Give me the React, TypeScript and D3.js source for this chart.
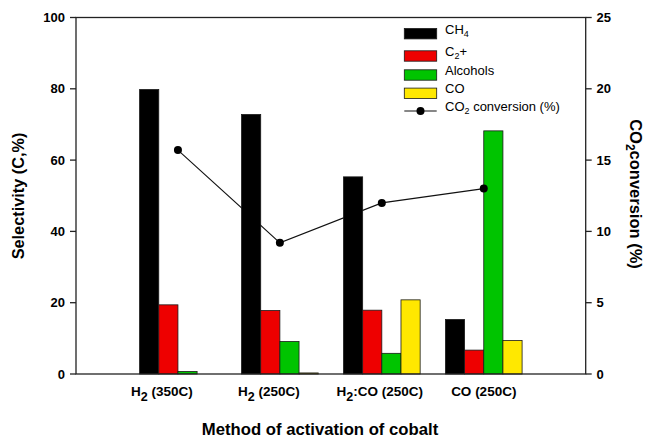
import React from "react";
import { scaleLinear, line } from "d3";

// selectivity (C, %) per activation method
const categories = ["H2 (350C)", "H2 (250C)", "H2:CO (250C)", "CO (250C)"];
const seriesNames = ["CH4", "C2+", "Alcohols", "CO"];
const ch4 = [79.8, 72.8, 55.3, 15.3];
const c2plus = [19.4, 17.8, 17.9, 6.7];
const alcohols = [0.7, 9.1, 5.8, 68.2];
const coSel = [0, 0.3, 20.8, 9.4];
// CO2 conversion (%) on the right axis
const co2Conversion = [15.7, 9.2, 12.0, 13.0];
const leftTicks = [0, 20, 40, 60, 80, 100];
const rightTicks = [0, 5, 10, 15, 20, 25];

const colors = ["#000000", "#ee0000", "#00c400", "#ffe800"];
const labelShift = [-16, -11, -2, 0]; // category labels sit a bit left in the original
const font = "Arial, 'Liberation Sans', sans-serif";

const W = 646;
const H = 439;
const m = { left: 76, right: 585.7, top: 17.5, bottom: 374 };

// turn digits that follow a letter into subscripts (H2, CH4, CO2)
function chem(label: string, subSize: number, drop: number) {
  const out: any[] = [];
  let buf = "";
  let lowered = false;
  for (let i = 0; i < label.length; i++) {
    const c = label[i];
    if (/\d/.test(c) && i > 0 && /[A-Za-z]/.test(label[i - 1])) {
      if (buf) out.push(<tspan key={"t" + i} dy={lowered ? -drop : 0}>{buf}</tspan>);
      if (buf) lowered = false;
      out.push(
        <tspan key={"s" + i} fontSize={subSize} dy={lowered ? 0 : drop}>
          {c}
        </tspan>
      );
      lowered = true;
      buf = "";
    } else {
      buf += c;
    }
  }
  if (buf) out.push(<tspan key="end" dy={lowered ? -drop : 0}>{buf}</tspan>);
  return out;
}

export default function App() {
  const series = [ch4, c2plus, alcohols, coSel];
  const x = scaleLinear().domain([0, categories.length + 1]).range([m.left, m.right]);
  const yL = scaleLinear().domain([0, 100]).range([m.bottom, m.top]);
  const yR = scaleLinear().domain([0, 25]).range([m.bottom, m.top]);
  const barW = (x(1) - x(0)) * 0.188;

  const conv = line<number>()
    .x((_, i) => x(i + 1))
    .y((d) => yR(d));

  const legendY = [33.7, 56, 75, 93.3];
  const legX = 404.3;

  return (
    <svg
      width={W}
      height={H}
      style={{ position: "absolute", left: 0, top: 0, background: "#fff" }}
      fontFamily={font}
    >
      <rect width={W} height={H} fill="#fff" />

      {/* conversion line sits behind the bars */}
      <path d={conv(co2Conversion) || ""} fill="none" stroke="#111" strokeWidth={1.1} />

      {series.map((vals, s) =>
        vals.map((v, i) =>
          v > 0 ? (
            <rect
              key={s + "-" + i}
              x={x(i + 1) + (s - 2) * barW}
              y={yL(v)}
              width={barW}
              height={yL(0) - yL(v)}
              fill={colors[s]}
              stroke="#1a1a1a"
              strokeWidth={0.8}
            />
          ) : null
        )
      )}

      {co2Conversion.map((v, i) => (
        <circle key={"p" + i} cx={x(i + 1)} cy={yR(v)} r={4} fill="#000" />
      ))}

      {/* frame */}
      <rect
        x={m.left}
        y={m.top}
        width={m.right - m.left}
        height={m.bottom - m.top}
        fill="none"
        stroke="#222"
        strokeWidth={1.3}
      />

      {/* left axis */}
      {leftTicks.map((t) => (
        <g key={"l" + t}>
          <line x1={m.left - 6} x2={m.left} y1={yL(t)} y2={yL(t)} stroke="#222" strokeWidth={1.3} />
          <text x={65} y={yL(t)} dy="0.35em" textAnchor="end" fontSize={13} fontWeight="bold">
            {t}
          </text>
        </g>
      ))}

      {/* right axis */}
      {rightTicks.map((t) => (
        <g key={"r" + t}>
          <line x1={m.right} x2={m.right + 6} y1={yR(t)} y2={yR(t)} stroke="#222" strokeWidth={1.3} />
          <text x={596.5} y={yR(t)} dy="0.35em" textAnchor="start" fontSize={13} fontWeight="bold">
            {t}
          </text>
        </g>
      ))}

      {/* category labels */}
      {categories.map((c, i) => (
        <text
          key={c}
          x={x(i + 1) + labelShift[i]}
          y={396}
          textAnchor="middle"
          fontSize={13.5}
          fontWeight="bold"
        >
          {chem(c, 12.5, 5)}
        </text>
      ))}

      {/* axis titles */}
      <text x={320} y={435} textAnchor="middle" fontSize={16.7} fontWeight="bold">
        Method of activation of cobalt
      </text>
      <text
        transform="translate(24,196) rotate(-90)"
        textAnchor="middle"
        fontSize={16.3}
        fontWeight="bold"
      >
        Selectivity (C,%)
      </text>
      <text
        transform="translate(629.5,194) rotate(90)"
        textAnchor="middle"
        fontSize={16.5}
        fontWeight="bold"
      >
        {chem("CO2conversion (%)", 12, 4)}
      </text>

      {/* legend */}
      {seriesNames.map((n, s) => (
        <g key={n}>
          <rect
            x={legX}
            y={legendY[s] - 5.2}
            width={32.4}
            height={10.4}
            fill={colors[s]}
            stroke="#1a1a1a"
            strokeWidth={0.8}
          />
          <text x={445} y={legendY[s]} dy="0.35em" fontSize={13}>
            {chem(n, 9, 3)}
          </text>
        </g>
      ))}
      <line x1={legX} x2={legX + 32.4} y1={111} y2={111} stroke="#111" strokeWidth={1.1} />
      <circle cx={legX + 16.2} cy={111} r={4} fill="#000" />
      <text x={445} y={111} dy="0.35em" fontSize={13}>
        {chem("CO2 conversion (%)", 9, 3)}
      </text>
    </svg>
  );
}
